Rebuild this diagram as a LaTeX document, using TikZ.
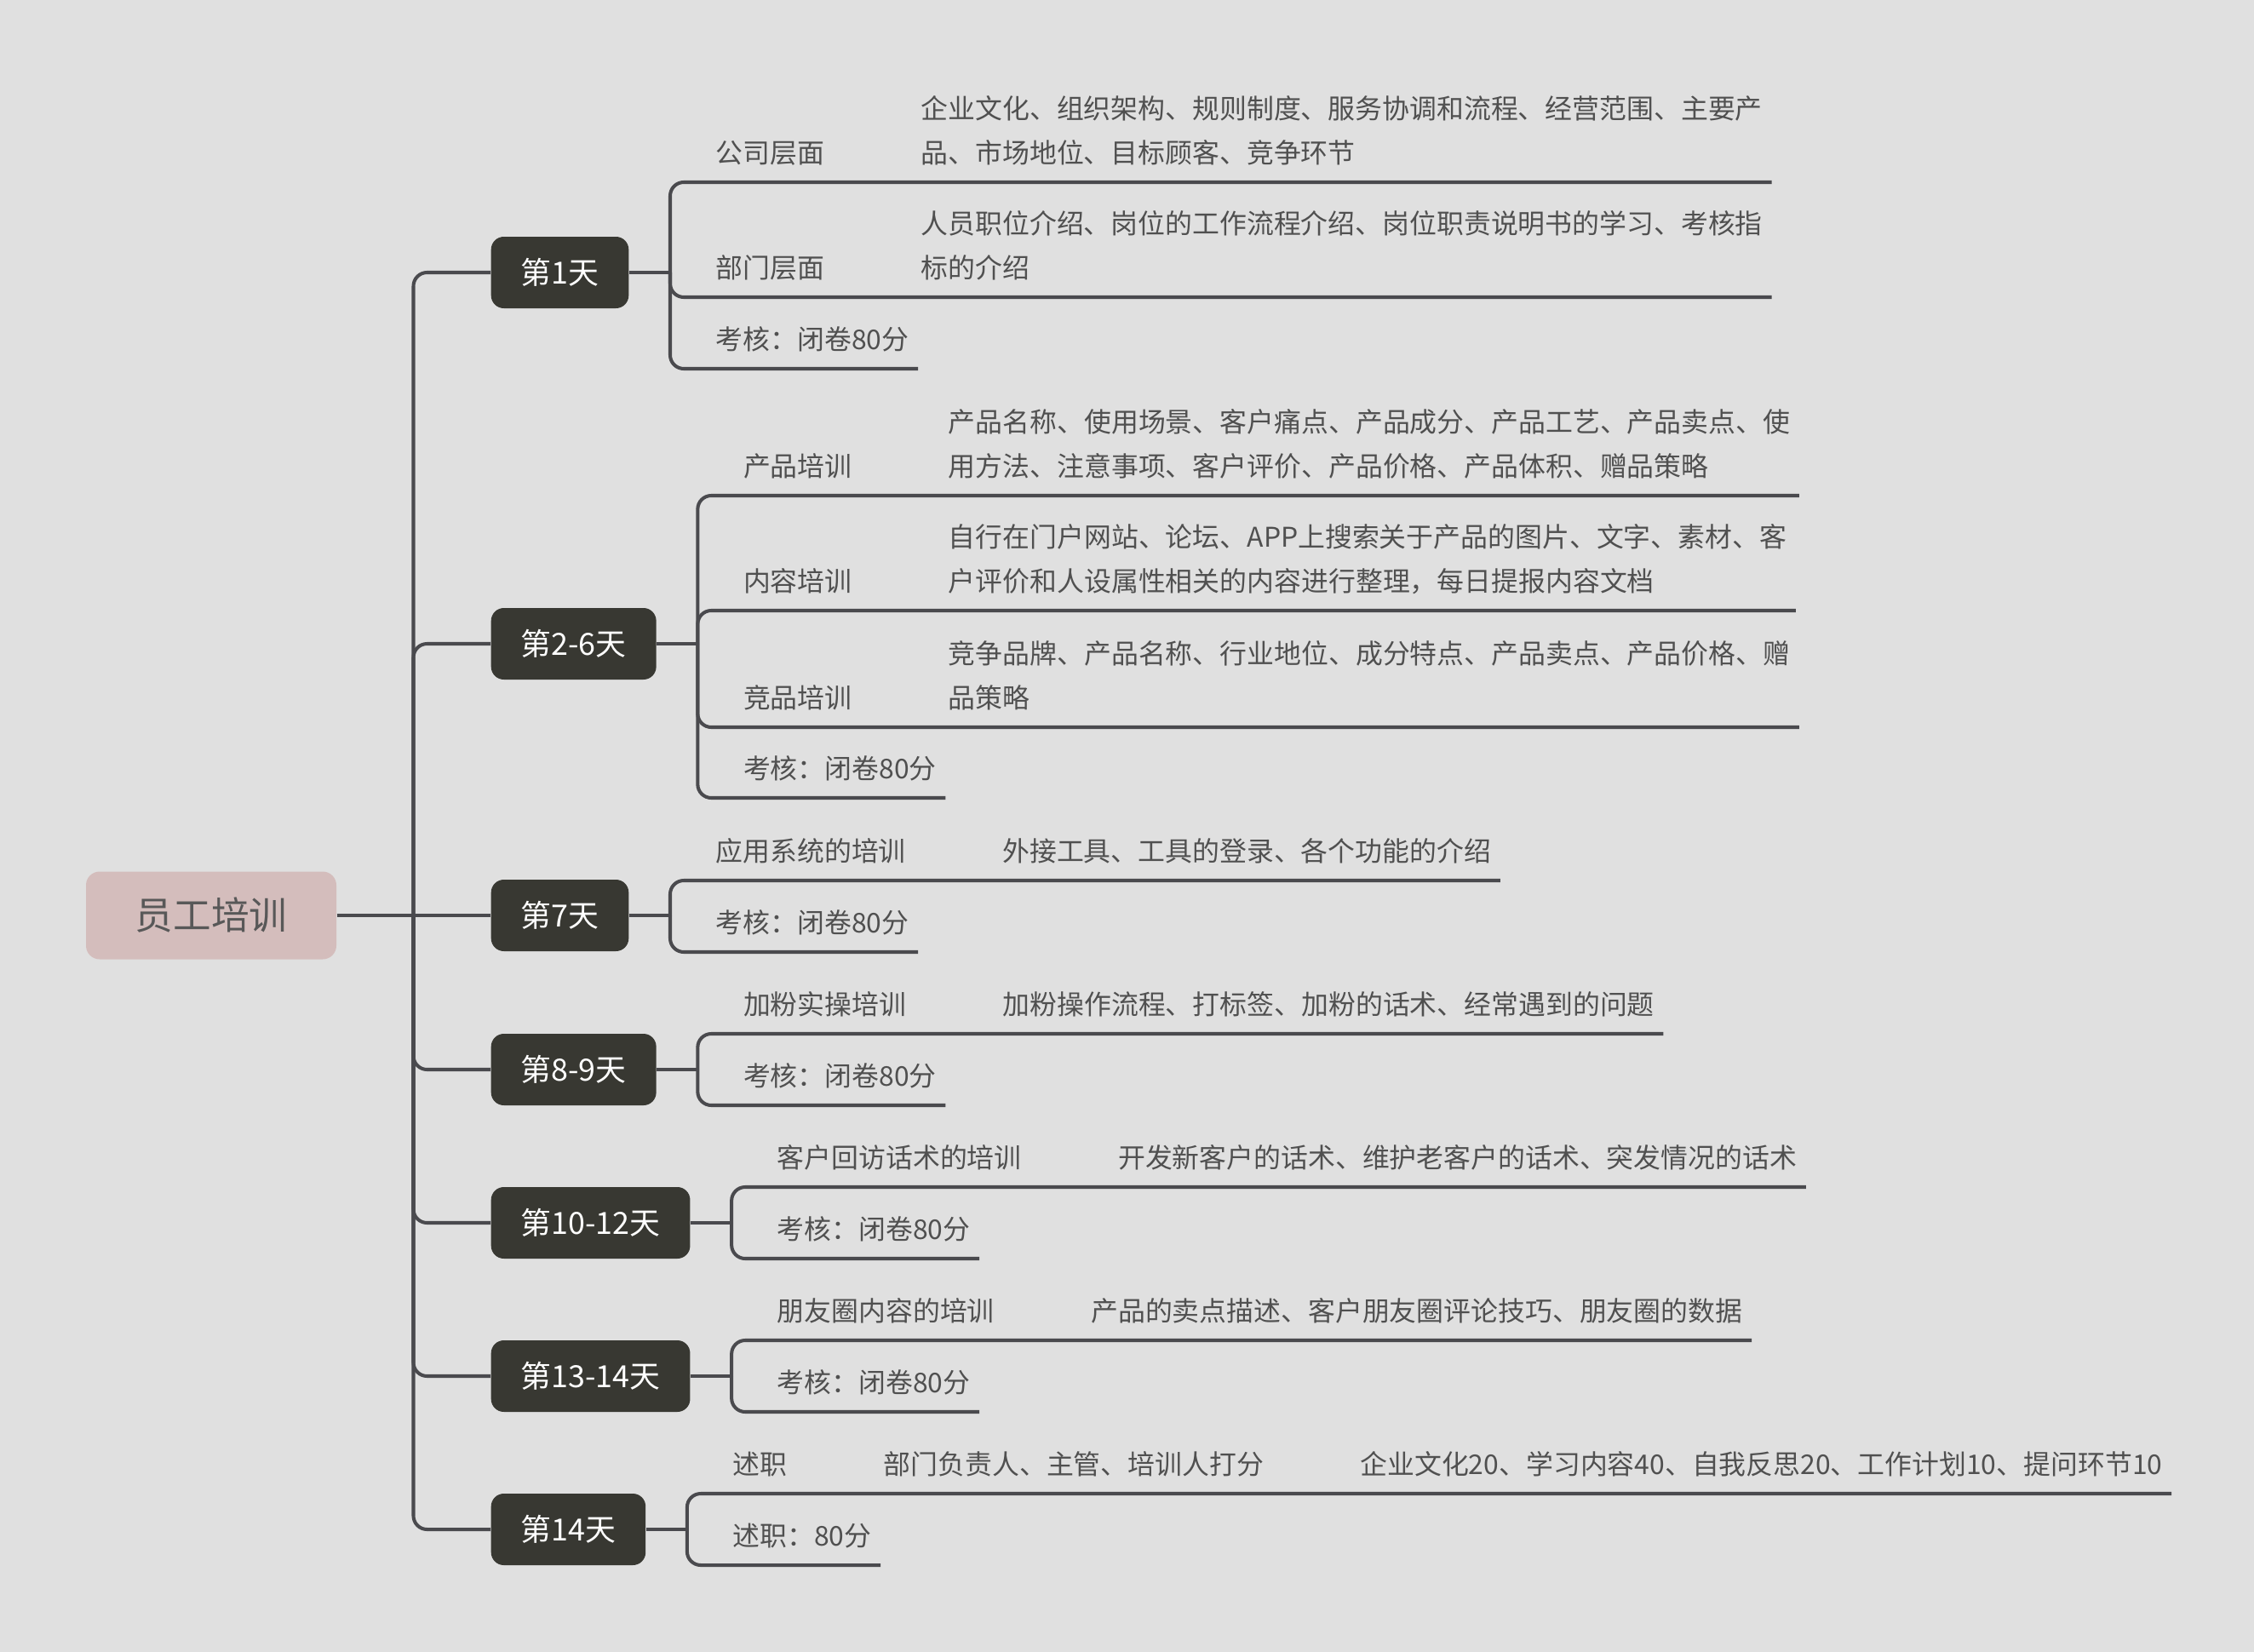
\documentclass[tikz,border=0pt]{standalone}
\usepackage{fontspec}
\newfontfamily\cjk{Noto Sans CJK SC}
\usetikzlibrary{positioning, calc}
\definecolor{canvas}{RGB}{224,224,224}
\definecolor{wire}{RGB}{74,74,78}
\definecolor{daybg}{RGB}{56,56,50}
\definecolor{rootbg}{RGB}{212,189,188}
\definecolor{roottxt}{RGB}{88,88,88}
\definecolor{leaftxt}{RGB}{80,80,80}

\begin{document}
\begin{tikzpicture}[
    conn/.style={draw=wire, line width=1.15pt, rounded corners=0.16cm},
    rootnode/.style={rectangle, rounded corners=0.16cm, fill=rootbg, text=roottxt,
      minimum width=2.94cm, minimum height=1.03cm, font=\cjk\fontsize{12.7pt}{15pt}\selectfont},
    daynode/.style={rectangle, rounded corners=0.15cm, fill=daybg, text=white, anchor=west,
      minimum height=0.84cm, inner xsep=0.35cm, font=\cjk\fontsize{10.2pt}{12pt}\selectfont},
    leaf/.style={anchor=south west, inner xsep=0.1cm, inner ysep=0.066cm, align=left,
      text=leaftxt, font=\cjk\fontsize{9.07pt}{14.6pt}\selectfont, execute at end node=\strut},
]

\fill[canvas] (0,0) rectangle (26.47,-19.40);
\useasboundingbox (0,0) rectangle (26.47,-19.40);

% ===== Root and day topics =====
\node[rootnode] (root) at (2.48,-10.75) {员工培训};
\coordinate (trunk) at (4.855,-10.75);

\node[daynode] (D1) at (5.76,-3.20) {第1天};
\node[daynode] (D2) at (5.76,-7.56) {第2-6天};
\node[daynode] (D3) at (5.76,-10.75) {第7天};
\node[daynode] (D4) at (5.76,-12.56) {第8-9天};
\node[daynode] (D5) at (5.76,-14.36) {第10-12天};
\node[daynode] (D6) at (5.76,-16.16) {第13-14天};
\node[daynode] (D7) at (5.76,-17.96) {第14天};

\draw[conn] (root.east) -- (D3.west);
\foreach \d in {D1,D2,D4,D5,D6,D7}
  \draw[conn] (trunk) |- (\d.west);

% brackets right of each day
\foreach \d/\j in {D1/J1,D2/J2,D3/J3,D4/J4,D5/J5,D6/J6,D7/J7}{
  \coordinate (\j) at ($(\d.east)+(0.48,0)$);
  \draw[conn] (\d.east) -- (\j);
}

% ===== 第1天 =====
\node[leaf, xshift=0.43cm] (cmp) at (J1 |- 0,-2.14) {公司层面};
\node[leaf] (cmpd) at ([xshift=0.92cm]cmp.south east)
  {企业文化、组织架构、规则制度、服务协调和流程、经营范围、主要产\\品、市场地位、目标顾客、竞争环节};
\node[leaf, xshift=0.43cm] (dept) at (J1 |- 0,-3.49) {部门层面};
\node[leaf] (deptd) at ([xshift=0.92cm]dept.south east)
  {人员职位介绍、岗位的工作流程介绍、岗位职责说明书的学习、考核指\\标的介绍};
\node[leaf, xshift=0.43cm] (exama) at (J1 |- 0,-4.33) {考核：闭卷80分};

\draw[conn] (J1) |- (cmp.south west) -- (cmpd.south east);
\draw[conn] (J1) |- (dept.south west) -- (deptd.south east);
\draw[conn] (J1) |- (exama.south east);

% ===== 第2-6天 =====
\node[leaf, xshift=0.43cm] (prod) at (J2 |- 0,-5.82) {产品培训};
\node[leaf] (prodd) at ([xshift=0.92cm]prod.south east)
  {产品名称、使用场景、客户痛点、产品成分、产品工艺、产品卖点、使\\用方法、注意事项、客户评价、产品价格、产品体积、赠品策略};
\node[leaf, xshift=0.43cm] (cont) at (J2 |- 0,-7.17) {内容培训};
\node[leaf] (contd) at ([xshift=0.92cm]cont.south east)
  {自行在门户网站、论坛、APP上搜索关于产品的图片、文字、素材、客\\户评价和人设属性相关的内容进行整理，每日提报内容文档};
\node[leaf, xshift=0.43cm] (comp) at (J2 |- 0,-8.54) {竞品培训};
\node[leaf] (compd) at ([xshift=0.92cm]comp.south east)
  {竞争品牌、产品名称、行业地位、成分特点、产品卖点、产品价格、赠\\品策略};
\node[leaf, xshift=0.43cm] (examb) at (J2 |- 0,-9.37) {考核：闭卷80分};

\draw[conn] (J2) |- (prod.south west) -- (prodd.south east);
\draw[conn] (J2) |- (cont.south west) -- (contd.south east);
\draw[conn] (J2) |- (comp.south west) -- (compd.south east);
\draw[conn] (J2) |- (examb.south east);

% ===== 第7天 =====
\node[leaf, xshift=0.43cm] (sys) at (J3 |- 0,-10.34) {应用系统的培训};
\node[leaf] (sysd) at ([xshift=0.92cm]sys.south east) {外接工具、工具的登录、各个功能的介绍};
\node[leaf, xshift=0.43cm] (examc) at (J3 |- 0,-11.18) {考核：闭卷80分};

\draw[conn] (J3) |- (sys.south west) -- (sysd.south east);
\draw[conn] (J3) |- (examc.south east);

% ===== 第8-9天 =====
\node[leaf, xshift=0.43cm] (fans) at (J4 |- 0,-12.14) {加粉实操培训};
\node[leaf] (fansd) at ([xshift=0.92cm]fans.south east) {加粉操作流程、打标签、加粉的话术、经常遇到的问题};
\node[leaf, xshift=0.43cm] (examd) at (J4 |- 0,-12.98) {考核：闭卷80分};

\draw[conn] (J4) |- (fans.south west) -- (fansd.south east);
\draw[conn] (J4) |- (examd.south east);

% ===== 第10-12天 =====
\node[leaf, xshift=0.43cm] (visit) at (J5 |- 0,-13.94) {客户回访话术的培训};
\node[leaf] (visitd) at ([xshift=0.92cm]visit.south east) {开发新客户的话术、维护老客户的话术、突发情况的话术};
\node[leaf, xshift=0.43cm] (exame) at (J5 |- 0,-14.78) {考核：闭卷80分};

\draw[conn] (J5) |- (visit.south west) -- (visitd.south east);
\draw[conn] (J5) |- (exame.south east);

% ===== 第13-14天 =====
\node[leaf, xshift=0.43cm] (moments) at (J6 |- 0,-15.74) {朋友圈内容的培训};
\node[leaf] (momentsd) at ([xshift=0.92cm]moments.south east) {产品的卖点描述、客户朋友圈评论技巧、朋友圈的数据};
\node[leaf, xshift=0.43cm] (examf) at (J6 |- 0,-16.58) {考核：闭卷80分};

\draw[conn] (J6) |- (moments.south west) -- (momentsd.south east);
\draw[conn] (J6) |- (examf.south east);

% ===== 第14天 =====
\node[leaf, xshift=0.43cm] (report) at (J7 |- 0,-17.54) {述职};
\node[leaf] (reportd) at ([xshift=0.92cm]report.south east) {部门负责人、主管、培训人打分};
\node[leaf] (reportdd) at ([xshift=0.92cm]reportd.south east) {企业文化20、学习内容40、自我反思20、工作计划10、提问环节10};
\node[leaf, xshift=0.43cm] (score) at (J7 |- 0,-18.38) {述职：80分};

\draw[conn] (J7) |- (report.south west) -- (reportdd.south east);
\draw[conn] (J7) |- (score.south east);

\end{tikzpicture}
\end{document}
